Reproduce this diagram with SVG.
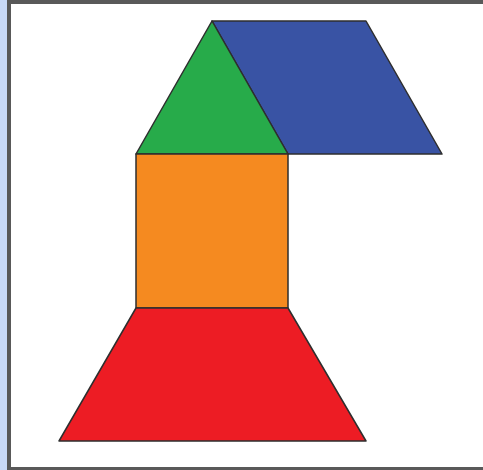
<svg xmlns="http://www.w3.org/2000/svg" width="483" height="470" viewBox="0 0 483 470">
<style>
.s{stroke:#2e2e2e;stroke-width:1.5;stroke-linejoin:round}
</style>
<rect x="0" y="0" width="483" height="470" fill="#ffffff"/>
<rect x="0" y="0" width="7" height="470" fill="#c9daf8"/>
<rect x="7" y="0" width="476" height="4" fill="#595959"/>
<rect x="7" y="0" width="4" height="470" fill="#595959"/>
<rect x="7" y="467" width="476" height="3" fill="#595959"/>
<g id="blue"><polygon class="s" fill="#3953a4" points="212,21 366,21 442,154 288,154"/></g>
<g id="green"><polygon class="s" fill="#27ab4a" points="212,21 288,154 136,154"/></g>
<g id="orange"><rect class="s" fill="#f58a20" x="136" y="154" width="152" height="154"/></g>
<g id="red"><polygon class="s" fill="#ed1c24" points="136,308 288,308 366,441 59,441"/></g>
</svg>
